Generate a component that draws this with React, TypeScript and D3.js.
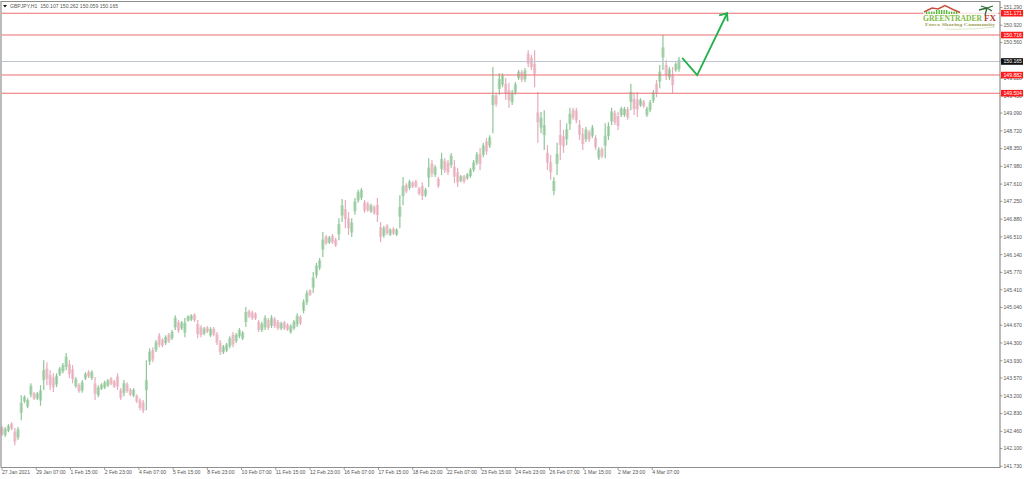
import { useEffect, useRef } from "react";
import * as d3 from "d3";

const WIDTH = 1024;
const HEIGHT = 479;

// one entry every 3 hours
const highs = [
  142.57, 142.55, 142.61, 142.65, 142.53, 142.55, 143.21, 143.21, 143.15, 143.46,
  143.28, 143.28, 143.42, 143.94, 143.90, 143.73, 143.67, 143.67, 143.80, 143.88,
  144.09, 143.94, 143.84, 143.59, 143.46, 143.53, 143.69, 143.73, 143.73, 143.59,
  143.42, 143.46, 143.51, 143.55, 143.59, 143.53, 143.67, 143.36, 143.53, 143.48,
  143.36, 143.36, 143.23, 143.15, 143.11, 143.94, 144.19, 144.21, 144.36, 144.51,
  144.40, 144.46, 144.51, 144.57, 144.88, 144.78, 144.76, 144.82, 144.88, 144.90,
  144.92, 144.78, 144.67, 144.63, 144.65, 144.63, 144.63, 144.53, 144.36, 144.26,
  144.30, 144.44, 144.53, 144.51, 144.61, 144.55, 145.05, 144.99, 144.97, 144.94,
  144.78, 144.74, 144.88, 144.82, 144.88, 144.84, 144.78, 144.74, 144.76, 144.71,
  144.69, 144.78, 144.92, 144.88, 145.21, 145.40, 145.42, 145.78, 145.97, 146.07,
  146.61, 146.55, 146.53, 146.57, 146.49, 146.90, 147.30, 147.28, 147.03, 146.90,
  147.32, 147.49, 147.53, 147.28, 147.24, 147.20, 147.17, 147.32, 146.82, 146.74,
  146.78, 146.69, 146.71, 146.69, 147.38, 147.76, 147.63, 147.70, 147.67, 147.70,
  147.55, 147.65, 147.53, 148.15, 148.11, 148.01, 147.76, 148.26, 148.15, 148.11,
  148.26, 148.11, 147.95, 147.80, 147.80, 147.84, 147.95, 148.11, 148.28, 148.36,
  148.47, 148.57, 148.63, 150.05, 149.51, 149.92, 149.92, 149.82, 149.72, 149.57,
  149.74, 149.99, 149.99, 150.03, 150.40, 150.30, 150.40, 149.53, 149.11, 149.15,
  148.42, 148.22, 147.76, 148.47, 148.95, 148.74, 148.88, 149.20, 149.20, 149.20,
  148.95, 148.78, 148.80, 148.74, 148.84, 148.63, 148.38, 148.38, 148.88, 148.90,
  149.20, 149.15, 149.11, 149.22, 149.22, 149.22, 149.70, 149.51, 149.53, 149.40,
  149.36, 149.22, 149.36, 149.57, 149.78, 150.09, 150.72, 150.20, 150.05, 150.05,
  150.15, 150.26,
];

const lows = [
  142.36, 142.34, 142.44, 142.48, 142.17, 142.28, 142.69, 143.05, 142.94, 143.17,
  143.11, 143.11, 142.99, 143.32, 143.42, 143.32, 143.28, 143.38, 143.61, 143.67,
  143.73, 143.57, 143.46, 143.36, 143.26, 143.26, 143.53, 143.57, 143.53, 143.11,
  143.17, 143.32, 143.34, 143.38, 143.42, 143.36, 143.32, 143.11, 143.19, 143.26,
  143.19, 143.17, 143.05, 142.90, 142.84, 142.90, 143.84, 143.90, 144.11, 144.21,
  144.21, 144.26, 144.30, 144.36, 144.57, 144.51, 144.57, 144.42, 144.74, 144.76,
  144.74, 144.40, 144.42, 144.46, 144.51, 144.42, 144.44, 144.26, 144.05, 144.07,
  144.11, 144.19, 144.21, 144.30, 144.40, 144.36, 144.63, 144.82, 144.78, 144.78,
  144.53, 144.53, 144.57, 144.57, 144.61, 144.61, 144.57, 144.57, 144.57, 144.55,
  144.49, 144.57, 144.63, 144.67, 144.92, 145.09, 145.28, 145.34, 145.65, 145.82,
  146.09, 146.34, 146.36, 146.36, 146.30, 146.44, 146.82, 146.69, 146.55, 146.51,
  146.97, 147.22, 147.28, 147.01, 147.03, 147.01, 146.97, 146.82, 146.40, 146.49,
  146.55, 146.53, 146.55, 146.53, 146.69, 147.17, 147.42, 147.49, 147.53, 147.53,
  147.38, 147.28, 147.34, 147.55, 147.76, 147.76, 147.53, 147.80, 147.84, 147.80,
  147.95, 147.63, 147.55, 147.65, 147.63, 147.70, 147.74, 147.86, 148.01, 147.90,
  148.17, 148.22, 148.36, 148.67, 149.22, 149.47, 149.63, 149.36, 149.20, 149.26,
  149.47, 149.78, 149.74, 149.74, 150.05, 149.99, 149.63, 148.47, 148.67, 148.32,
  147.90, 147.70, 147.38, 147.80, 148.11, 148.26, 148.42, 148.74, 148.95, 148.88,
  148.53, 148.32, 148.49, 148.49, 148.57, 148.32, 148.11, 148.15, 148.15, 148.53,
  148.84, 148.84, 148.74, 149.01, 149.01, 148.95, 149.15, 149.05, 149.01, 149.22,
  149.20, 149.01, 149.11, 149.30, 149.42, 149.61, 149.99, 149.78, 149.78, 149.51,
  149.95, 149.95,
];

// u = bull bar, d = bear bar
const directions = [
  "duudduuuuu", "duuuddduuu", "udduduudud", "uuuuddddud", "duddduudud",
  "duduuduuuu", "dddududddu", "uuduuuuddd", "duududdudd", "uuuduuduuu",
  "ududduuddu", "uuuddudddu", "duduuududd", "dduudududd", "udduduuuud",
  "uduuduuddu", "uududddduu", "dduudduudd", "ddudududuu", "udduududdu",
  "duuuduudud", "uu",
].join("");

const priceTicks = [
  151.29, 150.92, 150.56, 150.19, 149.82, 149.45, 149.09, 148.72, 148.35, 147.98,
  147.61, 147.25, 146.88, 146.51, 146.14, 145.77, 145.41, 145.04, 144.67, 144.3,
  143.93, 143.57, 143.2, 142.83, 142.46, 142.1, 141.73,
];

const timeLabels = [
  "27 Jan 2021", "29 Jan 07:00", "1 Feb 15:00", "2 Feb 23:00", "4 Feb 07:00",
  "5 Feb 15:00", "8 Feb 23:00", "10 Feb 07:00", "11 Feb 15:00", "12 Feb 23:00",
  "16 Feb 07:00", "17 Feb 15:00", "18 Feb 23:00", "22 Feb 07:00", "23 Feb 15:00",
  "24 Feb 23:00", "26 Feb 07:00", "1 Mar 15:00", "2 Mar 23:00", "4 Mar 07:00",
];

const resistanceLevels = [151.171, 150.716, 149.882, 149.504];
const lastPrice = 150.165;

// projected move drawn on the chart: hour, price
const arrowHours = [636, 650, 678];
const arrowPrices = [150.24, 149.88, 151.17];

const BAR_HOURS = 3;
const LABEL_HOURS = 32;

export default function App() {
  const svgRef = useRef<SVGSVGElement>(null);

  useEffect(() => {
    const svg = d3.select(svgRef.current);
    svg.selectAll("*").remove();

    const font = "'Liberation Sans', Arial, sans-serif";
    const x = d3.scaleLinear().domain([0, 633]).range([2, 679]);
    const y = d3.scaleLinear().domain([141.73, 151.29]).range([466.3, 7.5]);
    const right = 1000;
    const bottom = 467.5;

    const barColor = (i: number) => (directions[i] === "u" ? "#8dc796" : "#e8acbb");

    // bars: soft body around the middle of the range, thin wick over the full range
    const bars = svg.append("g");
    bars.selectAll("line.body")
      .data(highs)
      .enter()
      .append("line")
      .attr("class", "body")
      .attr("x1", (_d, i) => x(i * BAR_HOURS))
      .attr("x2", (_d, i) => x(i * BAR_HOURS))
      .attr("y1", (d, i) => {
        const mid = (y(d) + y(lows[i])) / 2;
        return mid - Math.min(5, (y(lows[i]) - y(d)) * 0.32);
      })
      .attr("y2", (d, i) => {
        const mid = (y(d) + y(lows[i])) / 2;
        return mid + Math.min(5, (y(lows[i]) - y(d)) * 0.32);
      })
      .attr("stroke", (_d, i) => barColor(i))
      .attr("stroke-opacity", 0.6)
      .attr("stroke-width", 3.2);
    bars.selectAll("line.wick")
      .data(highs)
      .enter()
      .append("line")
      .attr("class", "wick")
      .attr("x1", (_d, i) => x(i * BAR_HOURS))
      .attr("x2", (_d, i) => x(i * BAR_HOURS))
      .attr("y1", (d) => y(d))
      .attr("y2", (_d, i) => y(lows[i]))
      .attr("stroke", (_d, i) => barColor(i))
      .attr("stroke-width", 1.2);

    // horizontal levels
    for (const level of resistanceLevels) {
      svg.append("line")
        .attr("x1", 2).attr("x2", right)
        .attr("y1", y(level)).attr("y2", y(level))
        .attr("stroke", "#ea6f6f").attr("stroke-width", 1.1);
    }
    svg.append("line")
      .attr("x1", 2).attr("x2", right)
      .attr("y1", y(lastPrice)).attr("y2", y(lastPrice))
      .attr("stroke", "#bfc4d0").attr("stroke-width", 1);

    // projected move
    const arrowLine = d3.line<number>()
      .x((d) => x(d))
      .y((_d, i) => y(arrowPrices[i]));
    svg.append("path")
      .attr("d", arrowLine(arrowHours))
      .attr("fill", "none").attr("stroke", "#22b14c").attr("stroke-width", 1.8);
    const tipX = x(arrowHours[2]);
    const tipY = y(arrowPrices[2]);
    svg.append("path")
      .attr("d", `M${tipX - 8},${tipY + 2}L${tipX},${tipY}L${tipX + 0.5},${tipY + 8}`)
      .attr("fill", "none").attr("stroke", "#22b14c").attr("stroke-width", 1.8);

    // frame
    svg.append("path")
      .attr("d", `M1,${bottom}V1.5H${right}V${bottom}H1`)
      .attr("fill", "none").attr("stroke", "#8f8f8f").attr("stroke-width", 1.2);

    // price axis
    const priceAxis = svg.append("g")
      .attr("font-family", font).attr("font-size", 5.1).attr("fill", "#555");
    for (const t of priceTicks) {
      priceAxis.append("line")
        .attr("x1", right).attr("x2", right + 2.5)
        .attr("y1", y(t)).attr("y2", y(t))
        .attr("stroke", "#777").attr("stroke-width", 0.7);
      priceAxis.append("text")
        .attr("x", right + 3.5).attr("y", y(t) + 1.9)
        .text(t.toFixed(3));
    }

    // price tags
    const tag = (price: number, fill: string) => {
      svg.append("rect")
        .attr("x", right + 1).attr("y", y(price) - 3.3)
        .attr("width", 22).attr("height", 6.6)
        .attr("fill", fill);
      svg.append("text")
        .attr("x", right + 3.5).attr("y", y(price) + 1.9)
        .attr("font-family", font).attr("font-size", 5.1).attr("fill", "#fff")
        .text(price.toFixed(3));
    };
    for (const level of resistanceLevels) tag(level, "#ff1a1a");
    tag(lastPrice, "#111");

    // time axis
    const timeAxis = svg.append("g")
      .attr("font-family", font).attr("font-size", 5.1).attr("fill", "#555");
    timeLabels.forEach((label, i) => {
      const tx = x(i * LABEL_HOURS);
      timeAxis.append("line")
        .attr("x1", tx).attr("x2", tx)
        .attr("y1", bottom).attr("y2", bottom + 2.5)
        .attr("stroke", "#777").attr("stroke-width", 0.7);
      timeAxis.append("text").attr("x", tx).attr("y", 474).text(label);
    });

    // symbol header
    svg.append("path").attr("d", "M3,5H7L5,7.5Z").attr("fill", "#111");
    svg.append("text")
      .attr("x", 10).attr("y", 7.8)
      .attr("font-family", font).attr("font-size", 5.1).attr("fill", "#555")
      .attr("xml:space", "preserve")
      .text("GBPJPY,H1  150.107 150.262 150.059 150.165");

    // logo
    const logo = svg.append("g");
    logo.append("rect")
      .attr("x", 923).attr("y", 5).attr("width", 75).attr("height", 24)
      .attr("fill", "#fff").attr("fill-opacity", 0.75);
    logo.append("path")
      .attr("d", "M924,12L932,8L938,9L945,5.5L952,9L960,12.5")
      .attr("fill", "none").attr("stroke", "#c8523f").attr("stroke-width", 1.4);
    logo.append("g")
      .selectAll("rect")
      .data(d3.range(13))
      .enter()
      .append("rect")
      .attr("x", (d) => 926 + d * 2.5)
      .attr("y", (d) => (d > 3 && d < 9 ? 10 : 11.5))
      .attr("width", 1.3)
      .attr("height", (d) => (d > 3 && d < 9 ? 4 : 2.5))
      .attr("fill", "#4dbb2e");
    logo.append("text")
      .attr("x", 923).attr("y", 20.5)
      .attr("font-family", "'Liberation Serif', serif").attr("font-weight", 700)
      .attr("font-size", 7.5).attr("fill", "#7dbb45").attr("textLength", 59)
      .attr("lengthAdjust", "spacingAndGlyphs")
      .text("GREENTRADER");
    logo.append("text")
      .attr("x", 984).attr("y", 20.5)
      .attr("font-family", "'Liberation Serif', serif").attr("font-weight", 700)
      .attr("font-size", 7.5).attr("fill", "#b5382c").attr("textLength", 12)
      .attr("lengthAdjust", "spacingAndGlyphs")
      .text("FX");
    logo.append("text")
      .attr("x", 925).attr("y", 26)
      .attr("font-family", "'Liberation Serif', serif").attr("font-weight", 700)
      .attr("font-size", 3.8).attr("fill", "#a3a35a").attr("textLength", 70)
      .attr("lengthAdjust", "spacingAndGlyphs")
      .text("Forex Sharing Community");
    logo.append("path")
      .attr("d", "M987,8L985,15M987,8L979,10M987,8L993,6M987,8L992,11M987,8L981,6")
      .attr("fill", "none").attr("stroke", "#2f6b35").attr("stroke-width", 1.3);
    logo.append("path")
      .attr("d", "M945,29Q970,30 995,27")
      .attr("fill", "none").attr("stroke", "#dfe8c8").attr("stroke-width", 1.2);
  }, []);

  return (
    <svg
      ref={svgRef}
      width={WIDTH}
      height={HEIGHT}
      style={{ position: "absolute", left: 0, top: 0, display: "block", background: "#fff" }}
    />
  );
}
